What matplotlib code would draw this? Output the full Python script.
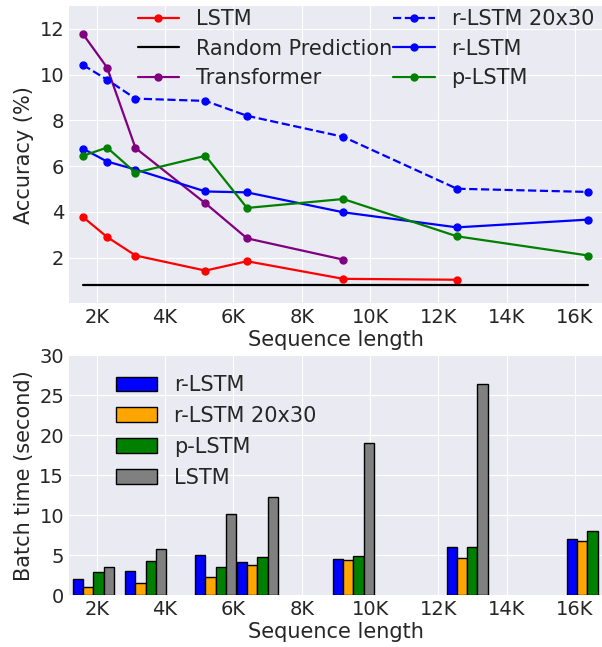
import matplotlib.pyplot as plt

plt.style.use('seaborn-v0_8-darkgrid')
plt.rcParams['font.family'] = ['DejaVu Sans']

# sequence lengths (square images: 40^2 ... 128^2)
seq_len = [1600, 2304, 3136, 5184, 6400, 9216, 12544, 16384]

# accuracy (%)
acc_lstm = [3.77, 2.90, 2.09, 1.43, 1.84, 1.07, 1.03]
acc_random = [0.82, 0.82]
acc_transformer = [11.77, 10.31, 6.79, 4.37, 2.84, 1.91]
acc_rlstm_20x30 = [10.42, 9.78, 8.95, 8.85, 8.20, 7.28, 5.01, 4.87]
acc_rlstm = [6.76, 6.20, 5.85, 4.89, 4.85, 3.98, 3.32, 3.66]
acc_plstm = [6.45, 6.81, 5.71, 6.45, 4.17, 4.56, 2.93, 2.09]

# batch time (seconds)
bar_x = [1600, 3136, 5184, 6400, 9216, 12544, 16060]
time_rlstm = [2.04, 3.06, 5.03, 4.15, 4.52, 6.07, 7.04]
time_rlstm_20x30 = [1.02, 1.51, 2.26, 3.85, 4.36, 4.65, 6.79]
time_plstm = [2.87, 4.31, 3.56, 4.82, 4.90, 6.07, 8.09]
time_lstm = [3.50, 5.78, 10.14, 12.32, 19.06, 26.43]

xticks = [2000, 4000, 6000, 8000, 10000, 12000, 14000, 16000]
xtick_labels = ['2K', '4K', '6K', '8K', '10K', '12K', '14K', '16K']

fig = plt.figure(figsize=(6.02, 6.47), dpi=100)
W, H = 602.0, 647.0
ax1 = fig.add_axes([69 / W, 1 - 303.3 / H, 1 - 69 / W, (303.3 - 6) / H])
ax2 = fig.add_axes([69 / W, 1 - 595.3 / H, 1 - 69 / W, (595.3 - 355.3) / H])

# --- accuracy plot ---
ms = 5
lw = 1.6
ax1.plot(seq_len[:7], acc_lstm, color='red', marker='o', ms=ms, lw=lw, label='LSTM')
ax1.plot([seq_len[0], seq_len[-1]], acc_random, color='black', lw=lw, label='Random Prediction')
ax1.plot(seq_len[:6], acc_transformer, color='purple', marker='o', ms=ms, lw=lw, label='Transformer')
ax1.plot(seq_len, acc_rlstm_20x30, color='blue', ls='--', marker='o', ms=ms, lw=lw, label='r-LSTM 20x30')
ax1.plot(seq_len, acc_rlstm, color='blue', marker='o', ms=ms, lw=lw, label='r-LSTM')
ax1.plot(seq_len, acc_plstm, color='green', marker='o', ms=ms, lw=lw, label='p-LSTM')

ax1.set_xlim(1190, 16790)
ax1.set_ylim(0, 13)
ax1.set_yticks([2, 4, 6, 8, 10, 12])
ax1.set_xticks(xticks)
ax1.set_xticklabels(xtick_labels)
ax1.tick_params(labelsize=14)
ax1.set_xlabel('Sequence length', fontsize=15, labelpad=2)
ax1.set_ylabel('Accuracy (%)', fontsize=15)
ax1.legend(ncol=2, fontsize=15, frameon=False, loc='upper left',
           bbox_to_anchor=(0.113, 1.017), labelspacing=0.45, columnspacing=0.05,
           borderaxespad=0)

# --- batch time plot ---
w = 300
ax2.bar([x - w for x in bar_x], time_rlstm, width=w, align='edge', color='blue',
        edgecolor='black', lw=1, label='r-LSTM')
ax2.bar(bar_x, time_rlstm_20x30, width=w, align='edge', color='orange',
        edgecolor='black', lw=1, label='r-LSTM 20x30')
ax2.bar([x + w for x in bar_x], time_plstm, width=w, align='edge', color='green',
        edgecolor='black', lw=1, label='p-LSTM')
ax2.bar([x + 2 * w for x in bar_x[:6]], time_lstm, width=w, align='edge', color='gray',
        edgecolor='black', lw=1, label='LSTM')

ax2.set_xlim(1190, 16790)
ax2.set_ylim(0, 30)
ax2.set_xticks(xticks)
ax2.set_xticklabels(xtick_labels)
ax2.tick_params(labelsize=14)
ax2.set_xlabel('Sequence length', fontsize=15, labelpad=2)
ax2.set_ylabel('Batch time (second)', fontsize=15)
ax2.legend(fontsize=15, frameon=False, loc='upper left',
           bbox_to_anchor=(0.072, 0.952), labelspacing=0.52, borderaxespad=0)

fig.savefig('out.png', dpi=100)
